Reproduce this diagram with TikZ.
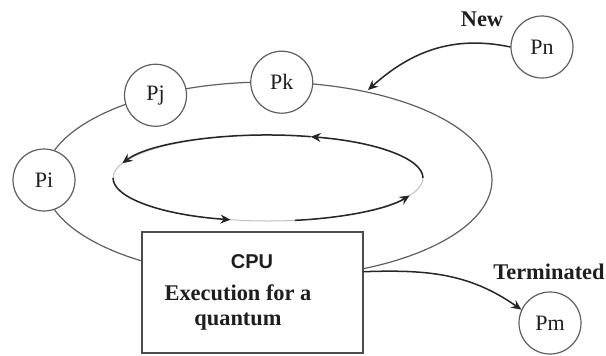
\documentclass[tikz,border=0pt]{standalone}
\usepackage{fontspec}
\setmainfont{Liberation Serif}
\newfontfamily\cpufont{Liberation Sans}
\usepackage{tikz}
\usetikzlibrary{arrows.meta,positioning,calc,shapes.geometric}
\definecolor{linecol}{RGB}{95,95,95}
\definecolor{textcol}{RGB}{30,30,30}
\tikzset{
  arrow/.style={-{Stealth[length=5pt,width=4.5pt]},line width=0.75pt,black!85},
  ringline/.style={draw=linecol,line width=0.6pt},
  proc/.style={circle,draw=linecol,fill=white,line width=0.6pt,minimum size=31pt,
    inner sep=0pt,font=\fontsize{11}{13}\selectfont,text=textcol},
  cpubox/.style={draw=black!70,fill=white,line width=0.7pt,minimum width=110.5pt,
    minimum height=60.5pt,inner sep=0pt},
  lbl/.style={font=\fontsize{11.2}{12.5}\selectfont\bfseries,text=textcol,align=center},
  inarc/.style={x radius=77.5pt,y radius=21.5pt},
  faint/.style={draw=black!25,line width=0.5pt}
}
\begin{document}
\begin{tikzpicture}[x=0.5pt,y=-0.5pt]
  \useasboundingbox (0,0) rectangle (606,355);
  % ready queue ring
  \node[ellipse,ringline,minimum width=224pt,minimum height=98pt,inner sep=0pt,
    outer sep=0pt] (ring) at (268,180) {};
  \node[proc] (pi) at (ring.180) {Pi};
  \node[proc] (pj) at (ring.143) {Pj};
  \node[proc] (pk) at (ring.82) {Pk};
  \node[cpubox] (cpu) at (252.5,292.5) {};
  \node[font=\cpufont\fontsize{10}{12}\selectfont\bfseries,text=textcol] (cpulbl)
    at (252,262) {CPU};
  \node[lbl] (exec) at (238,307) {Execution for a\\quantum};
  % round robin cycle
  \coordinate (inner) at (268,178);
  \draw[faint] (inner) ellipse[inarc];
  \draw[arrow] ([shift={(0:77.5pt and 21.5pt)}]inner) arc[inarc,start angle=0,end angle=74];
  \draw[arrow] ([shift={(74:77.5pt and 21.5pt)}]inner) arc[inarc,start angle=74,end angle=160];
  \draw[arrow] ([shift={(180:77.5pt and 21.5pt)}]inner) arc[inarc,start angle=180,end angle=256];
  \draw[arrow] ([shift={(280:77.5pt and 21.5pt)}]inner) arc[inarc,start angle=280,end angle=336];
  % new and terminated
  \node[proc] (pn) at (542,47) {Pn};
  \node[lbl] (newlbl) at (482,19) {New};
  \coordinate (newin) at (368,90);
  \draw[arrow] (pn.west) to[out=168,in=42] (newin);
  \node[proc] (pm) at (550,323) {Pm};
  \node[lbl] (termlbl) at (549,272) {Terminated};
  \draw[arrow] ($(cpu.north east)!0.33!(cpu.south east)$) to[out=2,in=145] (pm.155);
\end{tikzpicture}
\end{document}
